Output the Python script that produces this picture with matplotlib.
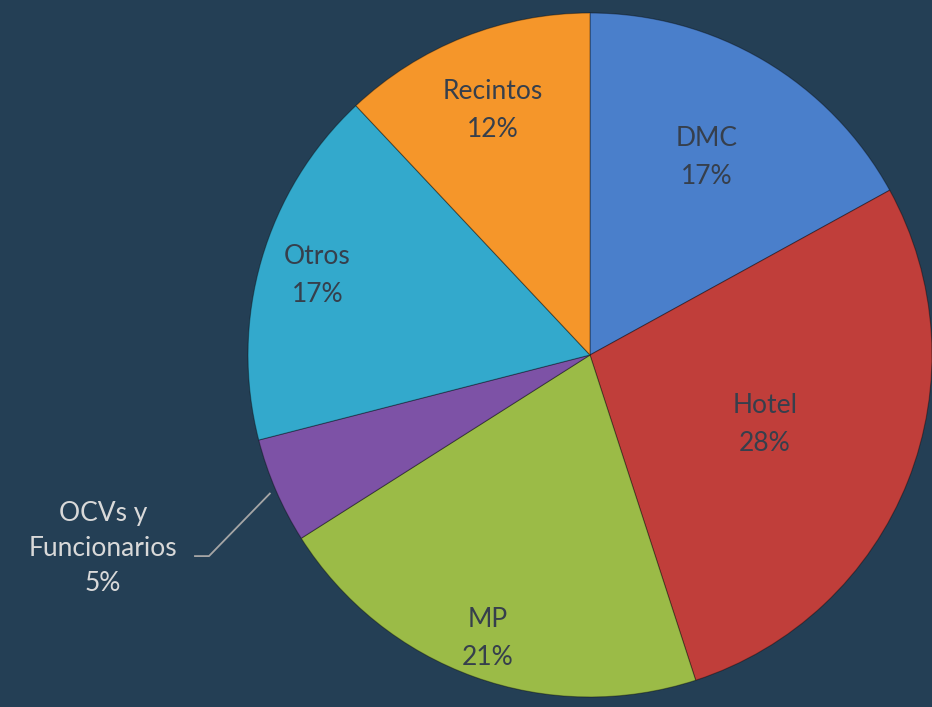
'''
Pie chart of distribution by sector
'''
import numpy             as np
import matplotlib
matplotlib.use('Agg')
import matplotlib.pyplot as plt

# --------------------------------
labels  = ['DMC', 'Hotel', 'MP', 'OCVs y\nFuncionarios', 'Otros', 'Recintos']
values  = [17, 28, 21, 5, 17, 12]
colors  = ['#4a7fcb', '#c03e3a', '#9bbb47', '#7d52a6', '#33a9cc', '#f5962a']
# radial position of the label inside each slice, fraction of radius
lab_pos = [0.67, 0.55, 0.88, None, 0.83, 0.77]

bg_col  = '#243f55'
# --------------------------------
def main():
    plt.rcParams['font.family'] = ['Lato', 'DejaVu Sans']

    fig = plt.figure(figsize=(9.32, 7.07), dpi=100)
    fig.patch.set_facecolor(bg_col)

    cx, cy, rad = 590, 355, 342
    ax = fig.add_axes([(cx - rad) / 932, (707 - cy - rad) / 707, 2 * rad / 932, 2 * rad / 707])
    ax.set_facecolor(bg_col)

    wedges, _ = ax.pie(values, colors=colors, startangle=90, counterclock=False,
                       radius=1, wedgeprops=dict(edgecolor=(0, 0, 0, 0.35), linewidth=0.8))

    ax.set_xlim(-1, 1)
    ax.set_ylim(-1, 1)
    ax.set_aspect('equal')
    ax.axis('off')

    for wedge, lab, val, dist in zip(wedges, labels, values, lab_pos):
        ang = np.deg2rad((wedge.theta1 + wedge.theta2) / 2)
        txt = f'{lab}\n{val}%'
        if dist is None:
            # outside label with leader line
            px, py = 1.02 * np.cos(ang), 1.02 * np.sin(ang)
            ax.plot([px, -1.114, -1.155], [py, -0.588, -0.588],
                    color='#a6a6a6', lw=1.3, clip_on=False)
            ax.text(-1.424, -0.567, txt, ha='center', va='center', fontsize=19,
                    color='#d9d9d9', linespacing=1.5, clip_on=False)
            continue

        ax.text(dist * np.cos(ang), dist * np.sin(ang), txt, ha='center', va='center',
                fontsize=19, color='#363f4c', linespacing=1.65)

    fig.savefig('out.png', facecolor=bg_col)
    plt.close(fig)
# --------------------------------
if __name__ == '__main__':
    main()
